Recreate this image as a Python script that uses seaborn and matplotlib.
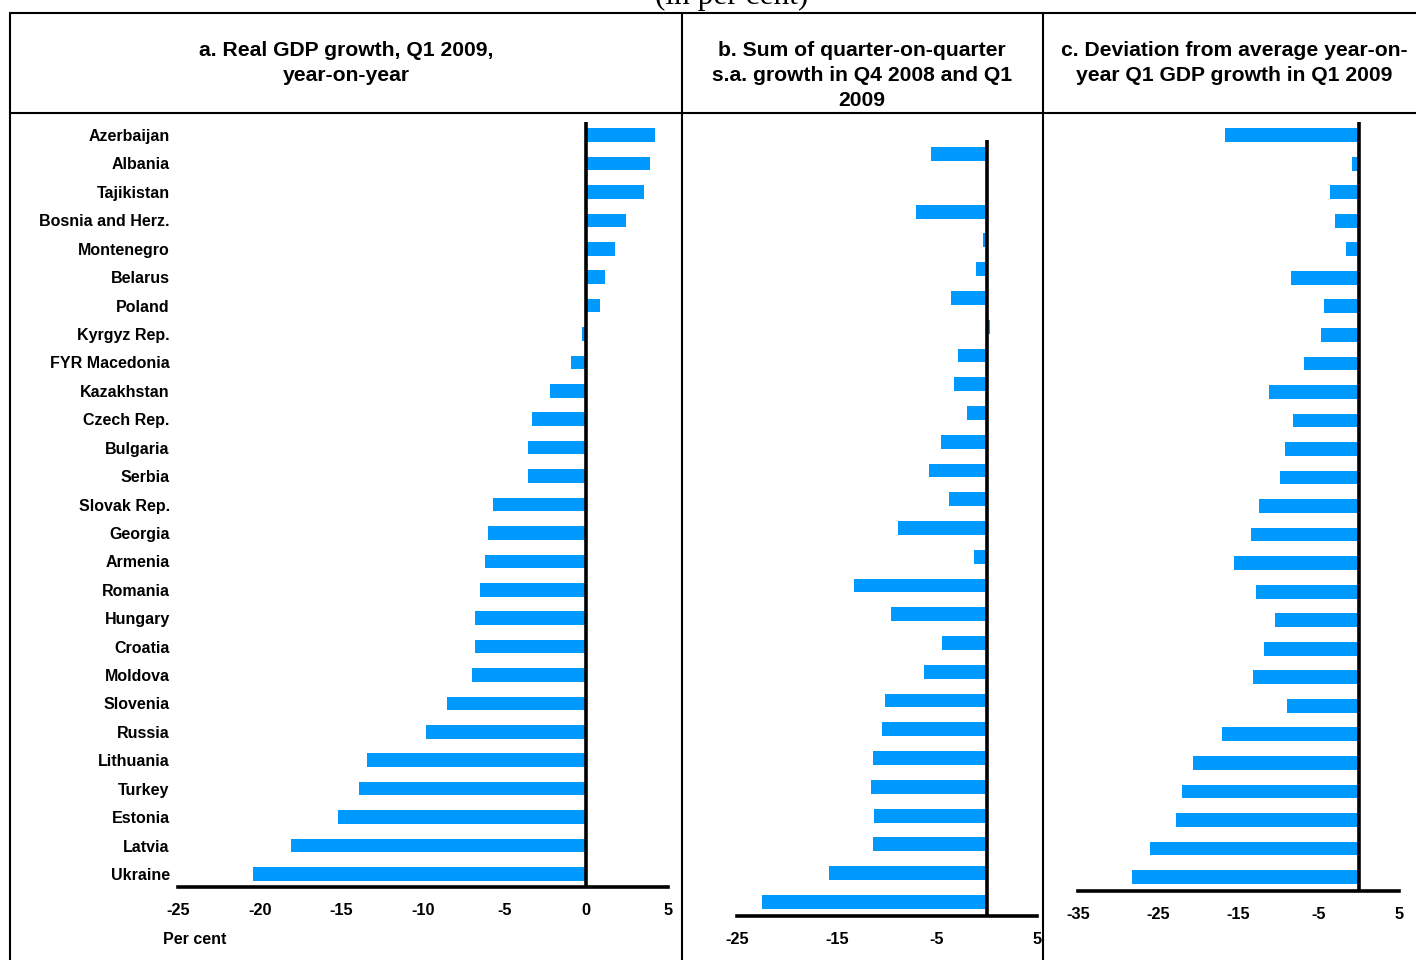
import matplotlib
matplotlib.use("Agg")
import matplotlib.pyplot as plt
from matplotlib.lines import Line2D
import seaborn as sns
import pandas as pd

countries = ["Azerbaijan", "Albania", "Tajikistan", "Bosnia and Herz.", "Montenegro",
             "Belarus", "Poland", "Kyrgyz Rep.", "FYR Macedonia", "Kazakhstan",
             "Czech Rep.", "Bulgaria", "Serbia", "Slovak Rep.", "Georgia", "Armenia",
             "Romania", "Hungary", "Croatia", "Moldova", "Slovenia", "Russia",
             "Lithuania", "Turkey", "Estonia", "Latvia", "Ukraine"]

gdp_yoy = [4.2, 3.9, 3.5, 2.4, 1.75, 1.15, 0.85, -0.25, -0.95, -2.25,
           -3.35, -3.55, -3.55, -5.7, -6.0, -6.2, -6.5, -6.8, -6.8, -7.0,
           -8.55, -9.8, -13.4, -13.9, -15.2, -18.1, -20.4]

qoq_sum = [-5.6, -0.1, -7.1, -0.4, -1.1, -3.6, 0.3, -2.9, -3.3, -2.0,
           -4.6, -5.8, -3.8, -8.9, -1.3, -13.3, -9.6, -4.5, -6.3, -10.2,
           -10.5, -11.4, -11.6, -11.3, -11.4, -15.8, -22.5]

deviation = [-16.7, -0.8, -3.6, -3.0, -1.6, -8.5, -4.3, -4.75, -6.9, -11.2,
             -8.2, -9.25, -9.8, -12.5, -13.5, -15.6, -12.8, -10.4, -11.8, -13.25,
             -8.9, -17.1, -20.7, -22.0, -22.75, -26.0, -28.3]

ticks_a = [-25, -20, -15, -10, -5, 0, 5]
ticks_b = [-25, -15, -5, 5]
ticks_c = [-35, -25, -15, -5, 5]

titles = [["a. Real GDP growth, Q1 2009,", "year-on-year"],
          ["b. Sum of quarter-on-quarter", "s.a. growth in Q4 2008 and Q1", "2009"],
          ["c. Deviation from average year-on-", "year Q1 GDP growth in Q1 2009"]]

sns.set_style("white")
plt.rcParams["font.family"] = ["Liberation Sans", "DejaVu Sans"]
plt.rcParams["font.weight"] = "bold"
for k in ["text.color", "xtick.color", "ytick.color", "axes.labelcolor", "axes.edgecolor"]:
    plt.rcParams[k] = "black"

W, H = 1416, 960
fig = plt.figure(figsize=(W / 100, H / 100), dpi=100)
BAR = "#0099ff"


def px_axes(left, right, top, bottom):
    return fig.add_axes([left / W, 1 - bottom / H, (right - left) / W, (bottom - top) / H])


def panel(ax, values, xlim, ticks, ylim, show_labels):
    df = pd.DataFrame({"country": countries, "value": values})
    sns.barplot(data=df, x="value", y="country", orient="h", color=BAR,
                width=0.48, ax=ax, saturation=1, edgecolor="none")
    ax.set_xlim(*xlim)
    ax.set_ylim(*ylim)
    ax.set_xticks(ticks)
    ax.set_xticklabels([str(t) for t in ticks], fontsize=11.8, fontweight="bold", color="black")
    ax.set_xlabel("")
    ax.set_ylabel("")
    for s in ["top", "right", "left"]:
        ax.spines[s].set_visible(False)
    ax.spines["bottom"].set_linewidth(2.6)
    ax.spines["bottom"].set_color("black")
    ax.axvline(0, color="black", lw=2.6, zorder=5)
    ax.tick_params(axis="x", length=0, pad=11.5)
    ax.tick_params(axis="y", length=0, pad=6)
    if show_labels:
        ax.set_yticks(range(len(countries)))
        ax.set_yticklabels(countries, fontsize=11.5, fontweight="bold", color="black")
    else:
        ax.set_yticks([])
    ax.grid(False)


ax_a = px_axes(178, 668, 122, 887)
panel(ax_a, gdp_yoy, (-25, 5), ticks_a, (26.46, -0.46), True)

ax_b = px_axes(737, 1037, 140, 916)
panel(ax_b, qoq_sum, (-25, 5), ticks_b, (26.49, -0.49), False)

ax_c = px_axes(1078, 1399, 122, 891)
panel(ax_c, deviation, (-35, 5), ticks_c, (26.49, -0.46), False)

# table grid lines
lw = 1.5
def hline(y, x0, x1):
    fig.add_artist(Line2D([x0 / W, x1 / W], [1 - y / H, 1 - y / H], color="black", lw=lw,
                          transform=fig.transFigure))

def vline(x, y0, y1):
    fig.add_artist(Line2D([x / W, x / W], [1 - y0 / H, 1 - y1 / H], color="black", lw=lw,
                          transform=fig.transFigure))

hline(13, 10, W)
hline(113, 10, W)
for xv in [10, 682, 1043]:
    vline(xv, 13, H)

# headers
centers = [346, 862, 1234]
for cx, lines in zip(centers, titles):
    for i, line in enumerate(lines):
        fig.text(cx / W, 1 - (51 + 24.5 * i) / H, line, ha="center", va="center",
                 fontsize=15.2, fontweight="bold", color="black")

fig.text(163 / W, 1 - 940 / H, "Per cent", ha="left", va="center", fontsize=11.5,
         fontweight="bold", color="black")

fig.text(732 / W, 1 - 4 / H, "(in per cent)", ha="center", va="baseline",
         fontsize=22.5, family=["Liberation Serif", "DejaVu Serif"], fontweight="normal",
         color="black")

fig.savefig("out.png", dpi=100)
